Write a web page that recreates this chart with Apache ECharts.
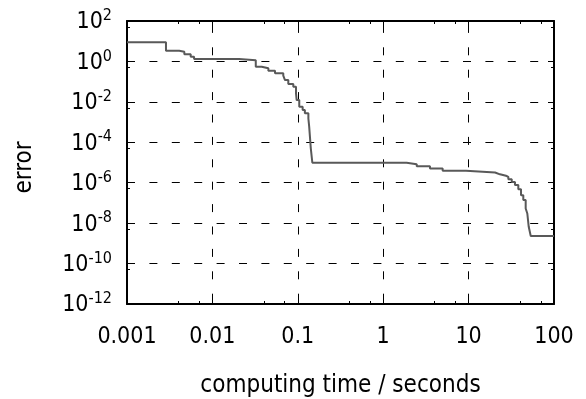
<!DOCTYPE html>
<html><head><meta charset="utf-8">
<script src="https://cdn.jsdelivr.net/npm/echarts@6/dist/echarts.min.js"></script>
<style>html,body{margin:0;padding:0;background:#fff}#c{width:586px;height:399px}</style>
</head><body><div id="c"></div>
<script>
// computing time (s) at which the error steps down, and the error reached
const timeSeconds = [0.001, 0.00286, 0.00409, 0.00469, 0.00557, 0.0061, 0.0205, 0.0322, 0.0378, 0.0452, 0.0541, 0.0676, 0.0708, 0.0774, 0.0886, 0.0953, 0.097, 0.104, 0.114, 0.121, 0.133, 0.136, 0.142, 0.148, 1.88, 2.47, 3.53, 4.97, 9.33, 20.4, 23.3, 27.4, 29.2, 32.0, 34.9, 38.2, 41.1, 43.7, 46.6, 48.7, 50.6, 53.4, 100];
const errorValues = [9, 3.39, 3.02, 2.24, 1.71, 1.31, 1.13, 0.547, 0.456, 0.347, 0.258, 0.196, 0.12, 0.076, 0.056, 0.026, 0.0123, 0.0057, 0.0039, 0.0027, 0.0015, 5.8e-4, 5.0e-5, 9.7e-6, 8.3e-6, 6.6e-6, 5.1e-6, 3.9e-6, 3.2e-6, 2.6e-6, 2.2e-6, 1.96e-6, 1.5e-6, 1.1e-6, 7.6e-7, 4.7e-7, 2.4e-7, 1.4e-7, 5.3e-8, 3.0e-8, 6.6e-9, 2.3e-9, 2.3e-9];
const xTickLabels = ['0.001', '0.01', '0.1', '1', '10', '100'];
const yTickExponents = [-12, -10, -8, -6, -4, -2, 0, 2];
const xAxisTitle = 'computing time / seconds';
const yAxisTitle = 'error';

const FONT = '"DejaVu Sans Condensed", "DejaVu Sans", sans-serif';
const chart = echarts.init(document.getElementById('c'), null, {renderer: 'canvas'});
const points = timeSeconds.map((t, i) => [t, errorValues[i]]);
const xMin = Number(xTickLabels[0]), xMax = Number(xTickLabels[xTickLabels.length - 1]);
const yMin = Math.pow(10, yTickExponents[0]), yMax = Math.pow(10, yTickExponents[yTickExponents.length - 1]);

function xLabel(v) {
  const e = Math.round(Math.log10(v));
  const idx = e - Math.round(Math.log10(xMin));
  return xTickLabels[idx] !== undefined ? xTickLabels[idx] : '';
}
function yLabel(v) {
  const e = Math.round(Math.log10(v));
  return yTickExponents.indexOf(e) >= 0 ? '{b|10}{s|' + e + '}' : '';
}
const axisLine = {show: true, onZero: false, lineStyle: {color: '#000', width: 2}};
const dash = {color: '#000', width: 1, type: [8, 14.4]};
const tick = {show: true, inside: true, length: 6, lineStyle: {color: '#000', width: 1}};

chart.setOption({
  animation: false,
  backgroundColor: '#fff',
  grid: {left: 127, right: 32, top: 21, bottom: 95, containLabel: false, outerBoundsMode: 'none'},
  xAxis: [{
    type: 'log', logBase: 10, min: xMin, max: xMax, position: 'bottom',
    name: xAxisTitle, nameLocation: 'middle', nameGap: 70,
    nameTextStyle: {fontFamily: FONT, fontSize: 24, color: '#000'},
    axisLine: axisLine, axisTick: tick,
    minorTick: {show: true, splitNumber: 3, length: 3, lineStyle: {color: '#000', width: 1}},
    splitLine: {show: true, lineStyle: Object.assign({dashOffset: 18.5}, dash)},
    axisLabel: {margin: 22, formatter: xLabel, fontFamily: FONT, fontSize: 23, color: '#000'}
  }, {
    type: 'log', logBase: 10, min: xMin, max: xMax, position: 'top',
    axisLine: axisLine, axisTick: tick,
    minorTick: {show: true, splitNumber: 3, length: 3, lineStyle: {color: '#000', width: 1}},
    splitLine: {show: false}, axisLabel: {show: false}
  }],
  yAxis: [{
    type: 'log', logBase: 10, min: yMin, max: yMax, interval: 2, position: 'left',
    name: yAxisTitle, nameLocation: 'middle', nameGap: 90,
    nameTextStyle: {fontFamily: FONT, fontSize: 24, color: '#000', padding: [0, 10, 0, 0]},
    axisLine: axisLine, axisTick: tick,
    minorTick: {show: true, splitNumber: 2, length: 3, lineStyle: {color: '#000', width: 1}},
    splitLine: {show: true, lineStyle: dash},
    axisLabel: {margin: 15, formatter: yLabel, fontFamily: FONT, color: '#000',
      rich: {b: {fontFamily: FONT, fontSize: 23, color: '#000', verticalAlign: 'bottom'},
             s: {fontFamily: FONT, fontSize: 16, color: '#000', verticalAlign: 'top', padding: [0, 0, 10, 0]}}}
  }, {
    type: 'log', logBase: 10, min: yMin, max: yMax, interval: 2, position: 'right',
    axisLine: axisLine, axisTick: tick,
    minorTick: {show: true, splitNumber: 2, length: 3, lineStyle: {color: '#000', width: 1}},
    splitLine: {show: false}, axisLabel: {show: false}
  }],
  series: [{
    type: 'line', step: 'end', xAxisIndex: 0, yAxisIndex: 0,
    showSymbol: false, symbol: 'none', clip: true,
    lineStyle: {color: '#595959', width: 2},
    data: points, z: 3
  }]
});
</script></body></html>
